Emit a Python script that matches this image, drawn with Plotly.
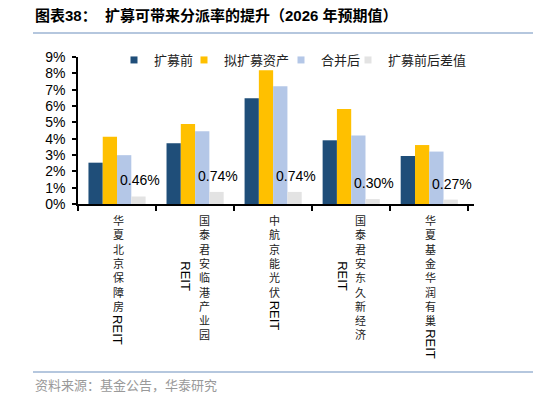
import plotly.graph_objects as go

categories = ["华夏北京保障房REIT", "国泰君安临港产业园REIT", "中航京能光伏REIT",
              "国泰君安东久新经济REIT", "华夏基金华润有巢REIT"]
series_names = ["扩募前", "拟扩募资产", "合并后", "扩募前后差值"]
before = [2.53, 3.72, 6.47, 3.90, 2.94]
asset = [4.12, 4.90, 8.19, 5.82, 3.61]
after = [2.99, 4.46, 7.21, 4.20, 3.21]
diff = [0.46, 0.74, 0.74, 0.30, 0.27]
y_ticks = [0, 1, 2, 3, 4, 5, 6, 7, 8, 9]

colors = ["#1F4E79", "#FFC000", "#B4C7E7", "#E3E3E3"]
legend_widths = [25, 52, 22, 80]
title_text = "图表38：  扩募可带来分派率的提升（2026 年预期值）"
source_text = "资料来源：基金公告，华泰研究"

CJK = "Noto Sans CJK SC"
LAT = "Liberation Sans"

fig = go.Figure()
for name, vals, c in zip(series_names, [before, asset, after, diff], colors):
    fig.add_trace(go.Bar(x=categories, y=vals, name=name, marker_color=c,
                         marker_line_width=0, showlegend=False))
# legend entries (small square symbols)
for name, c, lw in zip(series_names, colors, legend_widths):
    fig.add_trace(go.Scatter(x=[None], y=[None], mode="markers", name=name,
                             legendwidth=lw,
                             marker=dict(symbol="square", size=7, color=c)))

W, H = 534, 396
L, R, T, B = 78, 60, 57, 192
pw, ph = W - L - R, H - T - B
cat_w = pw / len(categories)
bargap = 0.268
bw = cat_w * (1 - bargap) / 4

annotations = []
# data labels of difference series
for cat, v in zip(categories, diff):
    annotations.append(dict(x=cat, y=v, xref="x", yref="y", text=f"{v:.2f}%",
                            showarrow=False, xanchor="center", yanchor="middle",
                            xshift=1.5 * bw + 1, yshift=16,
                            font=dict(family=LAT, size=14, color="#000000")))

# vertical category labels
fs = 11
lh = fs * 1.3
top_off = 6
for cat in categories:
    cjk, latin = cat[:-4], cat[-4:]
    n = len(cjk)
    col_text = "<br>".join(list(cjk))
    if n > 8:
        annotations.append(dict(x=cat, y=0, xref="x", yref="y", text=col_text,
                                showarrow=False, xanchor="center", yanchor="top",
                                xshift=9, yshift=-top_off,
                                font=dict(family=CJK, size=fs, color="#222222")))
        annotations.append(dict(x=cat, y=0, xref="x", yref="y", text=latin,
                                textangle=90, showarrow=False, xanchor="center",
                                yanchor="middle", xshift=-9,
                                yshift=-(top_off + n * lh / 2 + 2),
                                font=dict(family=LAT, size=13, color="#000000")))
    else:
        annotations.append(dict(x=cat, y=0, xref="x", yref="y", text=col_text,
                                showarrow=False, xanchor="center", yanchor="top",
                                xshift=1, yshift=-top_off,
                                font=dict(family=CJK, size=fs, color="#222222")))
        annotations.append(dict(x=cat, y=0, xref="x", yref="y", text=latin,
                                textangle=90, showarrow=False, xanchor="center",
                                yanchor="top", xshift=1,
                                yshift=-(top_off + n * lh + 3),
                                font=dict(family=LAT, size=13, color="#000000")))

def px_x(px):
    return (px - L) / pw

def px_y(py):
    return (H - B - py) / ph

annotations.append(dict(x=px_x(33), y=px_y(16), xref="paper", yref="paper",
                        text=f"<b>{title_text}</b>", showarrow=False,
                        xanchor="left", yanchor="middle",
                        font=dict(family=f"{LAT}, {CJK}", size=15, color="#000000")))
annotations.append(dict(x=px_x(33), y=px_y(384), xref="paper", yref="paper",
                        text=source_text, showarrow=False,
                        xanchor="left", yanchor="middle",
                        font=dict(family=CJK, size=13, color="#999999")))

shapes = [
    dict(type="line", xref="paper", yref="paper", x0=px_x(33), x1=px_x(533),
         y0=px_y(33), y1=px_y(33), line=dict(color="#9DB5D3", width=1.5)),
    dict(type="line", xref="paper", yref="paper", x0=px_x(33), x1=px_x(533),
         y0=px_y(372), y1=px_y(372), line=dict(color="#9DB5D3", width=1.5)),
]

fig.update_layout(
    width=W, height=H,
    margin=dict(l=L, r=R, t=T, b=B, pad=0),
    paper_bgcolor="white", plot_bgcolor="white",
    barmode="group", bargap=bargap, bargroupgap=0,
    showlegend=True,
    legend=dict(orientation="h", x=px_x(114), y=px_y(60), xanchor="left",
                yanchor="middle", bgcolor="rgba(0,0,0,0)",
                font=dict(family=CJK, size=13, color="#222222"),
                itemclick=False, tracegroupgap=0),
    annotations=annotations, shapes=shapes,
    xaxis=dict(type="category", showticklabels=False, showline=True,
               linecolor="#000000", linewidth=2, ticks="outside",
               tickson="boundaries", ticklen=5, tickcolor="#000000",
               tickwidth=1.5, showgrid=False, zeroline=False, fixedrange=True),
    yaxis=dict(range=[0, 9], tickvals=y_ticks,
               ticktext=[f"{t}%" for t in y_ticks], showline=True,
               linecolor="#000000", linewidth=1.5, ticks="outside", ticklen=4,
               tickcolor="#000000", tickwidth=1.5, showgrid=False,
               zeroline=False, ticklabelstandoff=4,
               tickfont=dict(family=LAT, size=14, color="#000000"),
               fixedrange=True),
)

fig.write_html("out.html")
